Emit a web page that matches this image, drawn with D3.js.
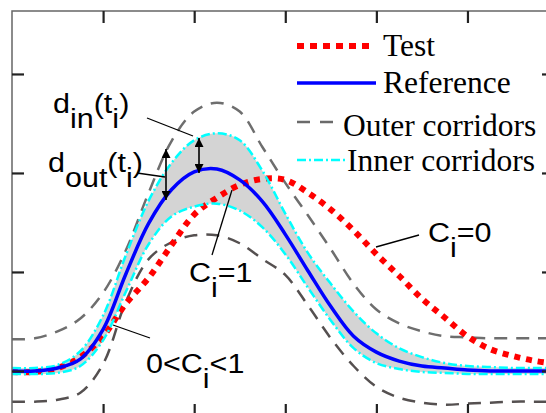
<!DOCTYPE html>
<html>
<head>
<meta charset="utf-8">
<script src="https://cdn.jsdelivr.net/npm/d3@7"></script>
<style>
  html, body { margin: 0; padding: 0; background: #fff; }
  svg { display: block; overflow: hidden; }
</style>
</head>
<body>
<svg id="chart" width="546" height="413"></svg>
<script>
// Sample times (s) shared by all curves
const time = [0, 0.25, 0.5, 0.75, 1, 1.25, 1.5, 1.75, 2, 2.25, 2.5, 2.75, 3,
              3.25, 3.5, 3.75, 4, 4.25, 4.5, 4.75, 5, 5.25, 5.5, 5.75, 6];

// Reference signal
const reference = [0, 0, 0.03, 0.12, 0.42, 0.98, 1.49, 1.83, 2.01, 2.04, 1.93, 1.71, 1.38,
                   1.01, 0.65, 0.35, 0.19, 0.10, 0.05, 0.03, 0.01, 0, 0, 0, 0];

// Test signal
const test = [-0.01, -0.01, 0.03, 0.14, 0.35, 0.68, 0.94, 1.27, 1.58, 1.75, 1.88, 1.94, 1.93,
              1.80, 1.63, 1.42, 1.18, 0.96, 0.73, 0.54, 0.35, 0.22, 0.15, 0.10, 0.07];

// Inner corridor bounds
const innerUpper = [0.03, 0.03, 0.06, 0.20, 0.56, 1.17, 1.72, 2.10, 2.33, 2.40, 2.33, 2.02, 1.59,
                    1.19, 0.88, 0.60, 0.38, 0.23, 0.14, 0.08, 0.05, 0.04, 0.03, 0.03, 0.03];
const innerLower = [-0.03, -0.03, -0.02, 0.05, 0.31, 0.80, 1.28, 1.56, 1.66, 1.69, 1.62, 1.45, 1.18,
                    0.84, 0.51, 0.23, 0.08, 0.02, -0.01, -0.02, -0.03, -0.03, -0.03, -0.03, -0.03];

// Outer corridor bounds
const outerUpper = [0.32, 0.33, 0.40, 0.53, 0.79, 1.22, 1.80, 2.32, 2.62, 2.71, 2.62, 2.26, 1.90,
                    1.57, 1.23, 0.88, 0.62, 0.48, 0.40, 0.35, 0.34, 0.33, 0.33, 0.33, 0.33];
const outerLower = [-0.31, -0.31, -0.29, -0.22, 0.07, 0.70, 1.13, 1.30, 1.37, 1.37, 1.29, 1.13, 0.97,
                    0.66, 0.33, 0.05, -0.16, -0.27, -0.32, -0.34, -0.33, -0.32, -0.31, -0.31, -0.31];

// Tick positions (no labels are shown on this plot)
const xTicks = [1, 2, 3, 4, 5];
const yTicks = [0, 1, 2, 3];

// Legend entries
const legendItems = [
  { label: "Test",            color: "#ff0000", width: 6,   dash: "7,6",      x0: 297, x1: 370, ly: 46,  tx: 383, ty: 56 },
  { label: "Reference",       color: "#0000ff", width: 3.5, dash: null,       x0: 297, x1: 376, ly: 83,  tx: 383, ty: 93 },
  { label: "Outer corridors", color: "#6a6a6a", width: 2.5, dash: "13,10",    x0: 297, x1: 342, ly: 122, tx: 343, ty: 136 },
  { label: "Inner corridors", color: "#00ffff", width: 2.5, dash: "9,3,2,3",  x0: 297, x1: 347, ly: 160, tx: 347, ty: 171 }
];

const svg = d3.select("#chart");

// Plot box
const box = { left: 12, top: 11, right: 554, bottom: 416 };

const x = d3.scaleLinear().domain([0, 5.95]).range([box.left, box.right]);
const y = d3.scaleLinear().domain([-0.455, 3.636]).range([box.bottom, box.top]);

const defs = svg.append("defs");
defs.append("clipPath").attr("id", "plotClip")
  .append("rect")
  .attr("x", box.left).attr("y", box.top)
  .attr("width", box.right - box.left).attr("height", box.bottom - box.top);

const plot = svg.append("g").attr("clip-path", "url(#plotClip)");

const smooth = d3.curveCatmullRom.alpha(0.5);

const lineOf = vals => d3.line()
  .x((d, i) => x(time[i]))
  .y(d => y(d))
  .curve(smooth)(vals);

// Shaded band between the inner corridors
const band = d3.area()
  .x((d, i) => x(time[i]))
  .y0((d, i) => y(innerLower[i]))
  .y1((d, i) => y(innerUpper[i]))
  .curve(smooth);

plot.append("path")
  .attr("d", band(time))
  .attr("fill", "#d4d4d4");

// Outer corridors
plot.append("path").attr("d", lineOf(outerUpper))
  .attr("fill", "none").attr("stroke", "#6e6e6e")
  .attr("stroke-width", 2.5).attr("stroke-dasharray", "13,9");
plot.append("path").attr("d", lineOf(outerLower))
  .attr("fill", "none").attr("stroke", "#555050")
  .attr("stroke-width", 2.5).attr("stroke-dasharray", "13,9");

// Test curve
plot.append("path").attr("d", lineOf(test))
  .attr("fill", "none").attr("stroke", "#ff0000")
  .attr("stroke-width", 6).attr("stroke-dasharray", "6,6");

// Inner corridors
[innerUpper, innerLower].forEach(vals => {
  plot.append("path").attr("d", lineOf(vals))
    .attr("fill", "none").attr("stroke", "#00ffff")
    .attr("stroke-width", 2.5).attr("stroke-dasharray", "9,3,2,3");
});

// Reference curve
plot.append("path").attr("d", lineOf(reference))
  .attr("fill", "none").attr("stroke", "#0000ff")
  .attr("stroke-width", 3.5);

// Axes: frame with inward ticks on all four sides
const tickLen = 12;
const axes = svg.append("g");
axes.append("rect")
  .attr("x", box.left).attr("y", box.top)
  .attr("width", box.right - box.left).attr("height", box.bottom - box.top)
  .attr("fill", "none").attr("stroke", "#666").attr("stroke-width", 1.5);

const axTop = d3.axisTop(x).tickValues(xTicks).tickSize(-tickLen).tickFormat("");
const axBottom = d3.axisBottom(x).tickValues(xTicks).tickSize(-tickLen).tickFormat("");
const axLeft = d3.axisLeft(y).tickValues(yTicks).tickSize(-tickLen).tickFormat("");
const axRight = d3.axisRight(y).tickValues(yTicks).tickSize(-tickLen).tickFormat("");

[[axTop, `translate(0,${box.top})`], [axBottom, `translate(0,${box.bottom})`],
 [axLeft, `translate(${box.left},0)`], [axRight, `translate(${box.right},0)`]].forEach(([ax, tr]) => {
  const g = axes.append("g").attr("transform", tr).call(ax);
  g.select(".domain").remove();
  g.selectAll(".tick line").attr("stroke", "#222").attr("stroke-width", 2.2);
});

// Legend
const legend = svg.append("g");
legendItems.forEach(it => {
  legend.append("line")
    .attr("x1", it.x0).attr("x2", it.x1).attr("y1", it.ly).attr("y2", it.ly)
    .attr("stroke", it.color).attr("stroke-width", it.width)
    .attr("stroke-dasharray", it.dash);
  legend.append("text")
    .attr("x", it.tx).attr("y", it.ty)
    .attr("font-family", "'Liberation Serif', 'Times New Roman', serif")
    .attr("font-size", 31.5).attr("fill", "#000")
    .text(it.label);
});

// Annotations: labels with subscripts, leader lines and double arrows
defs.append("marker").attr("id", "arrowHead")
  .attr("viewBox", "0 0 10 10").attr("refX", 10).attr("refY", 5)
  .attr("markerWidth", 10).attr("markerHeight", 9)
  .attr("markerUnits", "userSpaceOnUse")
  .attr("orient", "auto-start-reverse")
  .append("path").attr("d", "M0,0 L10,5 L0,10 Z").attr("fill", "#000");

const notes = svg.append("g")
  .attr("font-family", "'Liberation Sans', Arial, sans-serif")
  .attr("font-size", 27).attr("fill", "#000");

function subLabel(px, py, parts) {
  const t = notes.append("text")
    .attr("transform", `translate(${px},${py}) scale(1.13,1)`);
  let shifted = false;
  parts.forEach(([txt, sub]) => {
    const dy = sub && !shifted ? 15 : (!sub && shifted ? -15 : 0);
    shifted = sub;
    t.append("tspan").attr("dy", dy).text(txt);
  });
}

subLabel(53, 113, [["d", false], ["in", true], ["(t", false], ["i", true], [")", false]]);
subLabel(48, 172, [["d", false], ["out", true], ["(t", false], ["i", true], [")", false]]);
subLabel(189, 282, [["C", false], ["i", true], ["=1", false]]);
subLabel(428, 242, [["C", false], ["i", true], ["=0", false]]);
subLabel(146, 373, [["0<C", false], ["i", true], ["<1", false]]);

const leaders = [
  [[147, 118], [193, 136]],
  [[137, 173], [165, 177]],
  [[212, 255], [232, 190]],
  [[419, 235], [376, 247]],
  [[150, 338], [113, 325]]
];
leaders.forEach(([a, b]) => {
  notes.append("line")
    .attr("x1", a[0]).attr("y1", a[1]).attr("x2", b[0]).attr("y2", b[1])
    .attr("stroke", "#000").attr("stroke-width", 1.3);
});

const arrows = [
  [199, 138, 173],
  [166, 149, 200]
];
arrows.forEach(([ax, y0, y1]) => {
  notes.append("line")
    .attr("x1", ax).attr("y1", y0).attr("x2", ax).attr("y2", y1)
    .attr("stroke", "#000").attr("stroke-width", 1.6)
    .attr("marker-start", "url(#arrowHead)")
    .attr("marker-end", "url(#arrowHead)");
});
</script>
</body>
</html>
